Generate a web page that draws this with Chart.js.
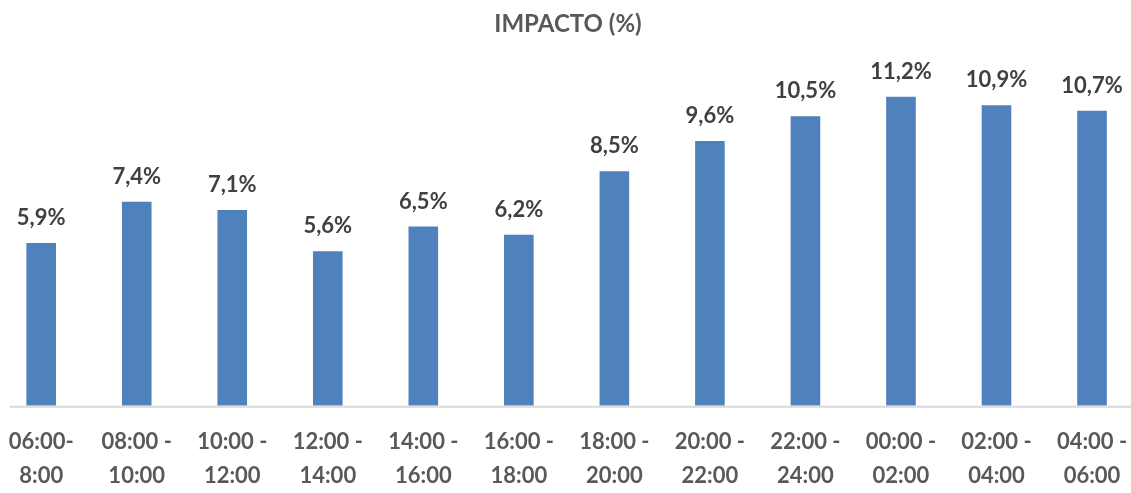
<!DOCTYPE html>
<html>
<head>
<meta charset="utf-8">
<script src="https://cdn.jsdelivr.net/npm/chart.js@4/dist/chart.umd.min.js"></script>
<style>
  html, body { margin: 0; padding: 0; background: #fff; overflow: hidden; }
  #wrap { position: absolute; left: -10px; top: 0; width: 1156px; height: 513px; }
</style>
</head>
<body>
<div id="wrap"><canvas id="ch"></canvas></div>
<script>
// franjas horarias (dos líneas por etiqueta)
const FRANJAS = [
  ["06:00-", "8:00"], ["08:00 -", "10:00"], ["10:00 -", "12:00"], ["12:00 -", "14:00"],
  ["14:00 -", "16:00"], ["16:00 -", "18:00"], ["18:00 -", "20:00"], ["20:00 -", "22:00"],
  ["22:00 -", "24:00"], ["00:00 -", "02:00"], ["02:00 -", "04:00"], ["04:00 -", "06:00"]
];
const IMPACTO = [5.9, 7.4, 7.1, 5.6, 6.5, 6.2, 8.5, 9.6, 10.5, 11.2, 10.9, 10.7];
const TITULO = "IMPACTO (%)";

const FONT = "Lato, 'Open Sans', sans-serif";
const fmtPct = v => v.toFixed(1).replace(".", ",") + "%";

// etiquetas sobre las barras + línea base
const extras = {
  id: "extras",
  afterDatasetsDraw(chart){
    const ctx = chart.ctx;
    const meta = chart.getDatasetMeta(0);
    ctx.save();
    ctx.font = "bold 22px " + FONT;
    ctx.fillStyle = "#404040";
    ctx.textAlign = "center";
    ctx.textBaseline = "alphabetic";
    meta.data.forEach((bar, i) => {
      ctx.fillText(fmtPct(IMPACTO[i]), bar.x, bar.y - 18);
    });
    const y0 = chart.scales.y.getPixelForValue(0);
    ctx.strokeStyle = "#d9d9d9";
    ctx.lineWidth = 2;
    ctx.beginPath();
    ctx.moveTo(20, y0 + 1);
    ctx.lineTo(chart.width, y0 + 1);
    ctx.stroke();
    ctx.restore();
  }
};

new Chart(document.getElementById("ch"), {
  type: "bar",
  data: {
    labels: FRANJAS,
    datasets: [{ data: IMPACTO, backgroundColor: "#4f81bd", categoryPercentage: 1, barPercentage: 0.31 }]
  },
  options: {
    responsive: true, maintainAspectRatio: false, animation: false,
    layout: { padding: { top: 0, bottom: 1, left: 0, right: 0 } },
    plugins: {
      legend: { display: false },
      tooltip: { enabled: false },
      title: {
        display: true, text: TITULO, color: "#595959",
        font: { family: FONT, size: 24, weight: "bold", lineHeight: 1.2 },
        padding: { top: 10, bottom: 36 }
      }
    },
    scales: {
      x: {
        grid: { display: false, drawTicks: false },
        border: { display: false },
        ticks: { color: "#595959", padding: 19, maxRotation: 0, autoSkip: false,
                 font: { family: FONT, size: 22, weight: "bold", lineHeight: 1.55 } }
      },
      y: { display: false, min: 0, max: 12 }
    }
  },
  plugins: [extras]
});
</script>
</body>
</html>
